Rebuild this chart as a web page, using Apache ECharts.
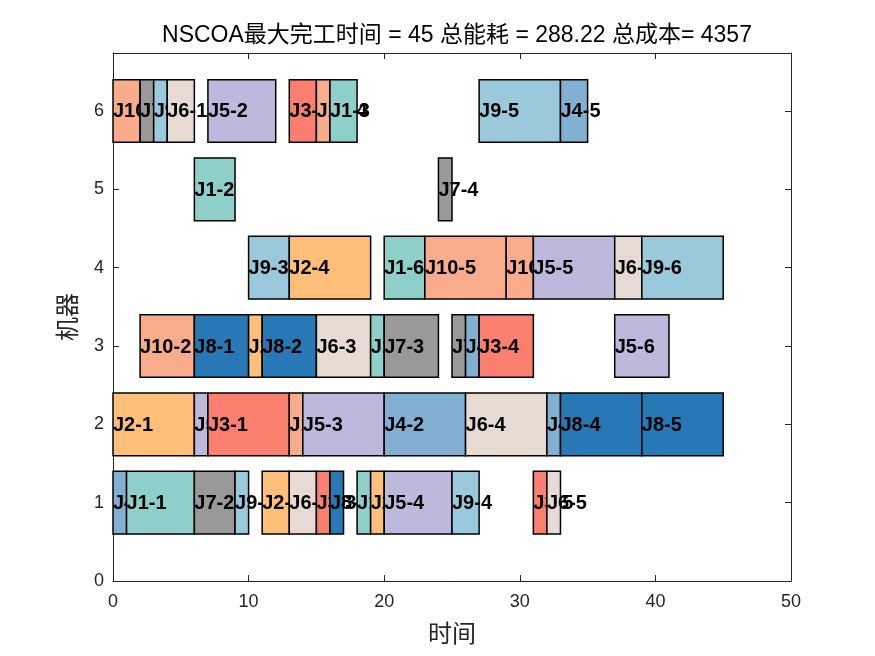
<!DOCTYPE html>
<html><head><meta charset="utf-8">
<script src="https://cdn.jsdelivr.net/npm/echarts@6/dist/echarts.min.js"></script>
<style>html,body{margin:0;padding:0;background:#fff}#c{width:875px;height:656px}</style>
</head><body><div id="c"></div>
<script>
const titleText = 'NSCOA最大完工时间 = 45 总能耗 = 288.22 总成本= 4357';
const xTicks = [0, 10, 20, 30, 40, 50];
const yTicks = [0, 1, 2, 3, 4, 5, 6];
const opLabels = [
 'J10-1','J7-1','J9-1','J6-1','J5-2','J3-2','J10-4','J1-3','J9-5','J4-5',
 'J1-2','J7-4',
 'J9-3','J2-4','J1-6','J10-5','J10-6','J5-5','J6-6','J9-6',
 'J10-2','J8-1','J2-2','J8-2','J6-3','J1-5','J7-3','J7-5','J4-3','J3-4','J5-6',
 'J2-1','J5-1','J3-1','J10-3','J5-3','J4-2','J6-4','J4-4','J8-4','J8-5',
 'J4-1','J1-1','J7-2','J9-2','J2-3','J6-2','J3-3','J8-3','J1-4','J2-5','J5-4','J9-4','J3-5','J6-5'
];
const opMachines = [
 6,6,6,6,6,6,6,6,6,6,
 5,5,
 4,4,4,4,4,4,4,4,
 3,3,3,3,3,3,3,3,3,3,3,
 2,2,2,2,2,2,2,2,2,2,
 1,1,1,1,1,1,1,1,1,1,1,1,1,1
];
const opStarts = [
 0,2,3,4,7,13,15,16,27,33,
 6,24,
 10,13,20,23,29,31,37,39,
 2,6,10,11,15,19,20,25,26,27,37,
 0,6,7,13,14,20,26,32,33,39,
 0,1,6,9,11,13,15,16,18,19,20,25,31,32
];
const opEnds = [
 2,3,4,6,12,15,16,18,33,35,
 9,25,
 13,19,23,29,31,37,39,45,
 6,10,11,15,19,20,24,26,27,31,41,
 6,7,13,14,20,26,32,33,39,45,
 1,6,9,10,13,15,16,17,19,20,25,27,32,33
];
const jobColors = ['#8ECFC9','#FFBE7A','#FA7F6F','#82B0D2','#BEB8DC','#E7DAD2','#999999','#2878B5','#9AC9DB','#F8AC8C'];

const data = opLabels.map((l, i) => [opStarts[i], opEnds[i], opMachines[i], i]);
const chart = echarts.init(document.getElementById('c'), null, {renderer: 'canvas'});
const axisCol = '#262626';
const font = 'Liberation Sans, Arial, Helvetica, sans-serif';
chart.setOption({
  animation: false,
  backgroundColor: '#fff',
  title: {
    text: titleText, left: 452, textAlign: 'center', top: 19,
    textStyle: {fontFamily: 'Liberation Sans, "Noto Sans CJK SC", sans-serif', fontSize: 23, fontWeight: 'normal', color: '#000'}
  },
  grid: {left: 113, right: 84, top: 53, bottom: 75, containLabel: false},
  xAxis: [{
    type: 'value', min: 0, max: 50, interval: 10,
    name: '时间', nameLocation: 'middle', nameGap: 40,
    nameTextStyle: {fontFamily: '"Noto Sans CJK SC", sans-serif', fontSize: 24, color: axisCol},
    axisLine: {show: true, lineStyle: {color: axisCol, width: 1}},
    axisTick: {show: true, inside: true, length: 6, lineStyle: {color: axisCol}},
    axisLabel: {fontFamily: font, fontSize: 18, color: axisCol, margin: 12,
      formatter: v => xTicks.includes(v) ? String(v) : ''},
    splitLine: {show: false}
  }, {
    type: 'value', min: 0, max: 50, interval: 10, position: 'top',
    axisLine: {show: true, onZero: false, lineStyle: {color: axisCol, width: 1}},
    axisTick: {show: true, inside: true, length: 6, lineStyle: {color: axisCol}},
    axisLabel: {show: false}, splitLine: {show: false}
  }],
  yAxis: [{
    type: 'value', min: 0, max: 6.74, interval: 1,
    name: '机器', nameLocation: 'middle', nameGap: 34, nameRotate: 90,
    nameTextStyle: {fontFamily: '"Noto Sans CJK SC", sans-serif', fontSize: 24, color: axisCol},
    axisLine: {show: true, lineStyle: {color: axisCol, width: 1}},
    axisTick: {show: true, inside: true, length: 6, lineStyle: {color: axisCol}},
    axisLabel: {fontFamily: font, fontSize: 18, color: axisCol, margin: 9, showMaxLabel: false,
      formatter: v => yTicks.includes(v) ? String(v) : ''},
    splitLine: {show: false}
  }, {
    type: 'value', min: 0, max: 6.74, interval: 1, position: 'right',
    axisLine: {show: true, onZero: false, lineStyle: {color: axisCol, width: 1}},
    axisTick: {show: true, inside: true, length: 6, lineStyle: {color: axisCol}},
    axisLabel: {show: false}, splitLine: {show: false}
  }],
  series: [{
    type: 'custom',
    xAxisIndex: 0, yAxisIndex: 0,
    data: data,
    clip: false,
    renderItem: function (params, api) {
      const s = api.value(0), e = api.value(1), m = api.value(2), idx = api.value(3);
      const p0 = api.coord([s, m + 0.4]);
      const p1 = api.coord([e, m - 0.4]);
      const label = opLabels[idx];
      const job = parseInt(label.slice(1).split('-')[0], 10);
      return {
        type: 'group',
        children: [{
          type: 'rect',
          z2: idx * 2,
          shape: {x: p0[0], y: p0[1], width: p1[0] - p0[0], height: p1[1] - p0[1]},
          style: {fill: jobColors[job - 1], stroke: '#000', lineWidth: 1.5}
        }, {
          type: 'text',
          z2: idx * 2 + 1,
          x: p0[0], y: (p0[1] + p1[1]) / 2 + 1,
          style: {text: label, fill: '#000', font: 'bold 20px ' + font, align: 'left', verticalAlign: 'middle'}
        }]
      };
    }
  }]
});
</script>
</body></html>
